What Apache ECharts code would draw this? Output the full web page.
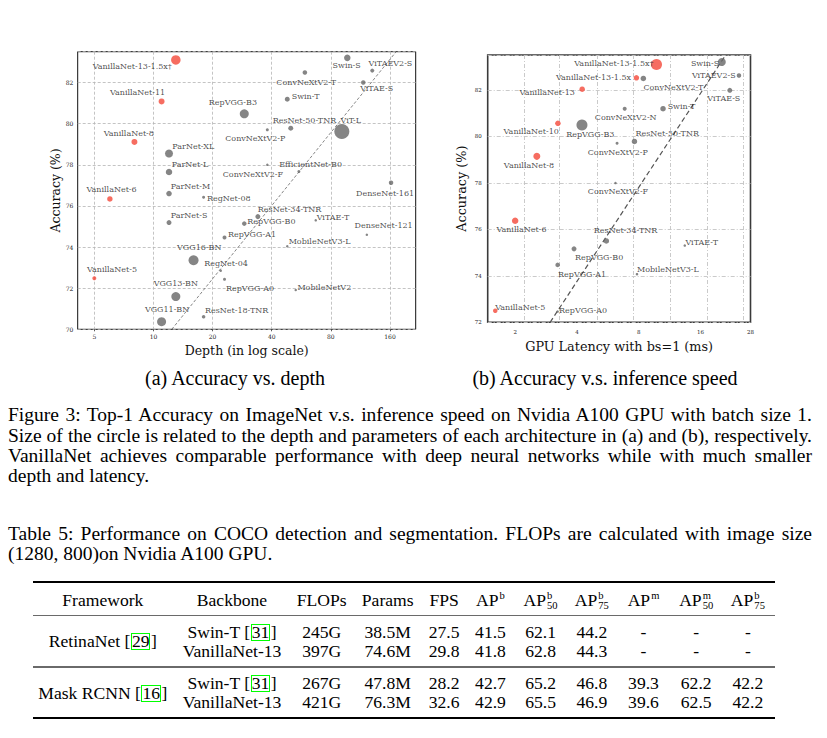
<!DOCTYPE html>
<html><head><meta charset="utf-8">
<script src="https://cdn.jsdelivr.net/npm/echarts@6/dist/echarts.min.js"></script>
<style>
html,body{margin:0;padding:0;background:#fff;width:827px;height:738px;overflow:hidden;}
#chart{position:absolute;left:0;top:0;width:827px;height:368px;}
.t{position:absolute;font-family:"Liberation Serif","Times New Roman",serif;color:#000;white-space:nowrap;}
.just{text-align:justify;text-align-last:justify;}
.cell{position:absolute;width:240px;text-align:center;font-family:"Liberation Serif","Times New Roman",serif;font-size:17.6px;line-height:20px;height:20px;white-space:nowrap;color:#000;}
.cite{display:inline-block;border:1.3px solid #00ff00;line-height:15px;height:15px;padding:0;margin:0 0.5px;}
.ss{display:inline-block;vertical-align:-0.36em;font-size:0.6em;line-height:0.98em;text-align:left;margin-left:1px;}
.ss span{display:block;}
.rule{position:absolute;left:32.7px;width:742.6px;}
</style></head><body>
<div id="chart"></div>
<div id="text"></div>
<script>
// ---------------- DATA ----------------
// (a) Accuracy vs. depth
const depthNames = ['VanillaNet-13-1.5x†','VanillaNet-11','VanillaNet-8','VanillaNet-6','VanillaNet-5','Swin-S','ViTAEV2-S','ConvNeXtV2-T','ViTAE-S','Swin-T','RepVGG-B3','ConvNeXtV2-P','ResNet-50-TNR','ViT-L','ParNet-XL','ParNet-L','ParNet-M','ParNet-S','EfficientNet-B0','ConvNeXtV2-F','DenseNet-161','RegNet-08','ResNet-34-TNR','RepVGG-B0','ViTAE-T','DenseNet-121','RepVGG-A1','MobileNetV3-L','VGG16-BN','RegNet-04','RepVGG-A0','MobileNetV2','VGG13-BN','VGG11-BN','ResNet-18-TNR'];
const depthValues = [13, 11, 8, 6, 5, 97, 130, 59, 117, 48, 29, 38, 50, 91, 12, 12, 12, 12, 55, 38, 162, 18, 34, 29, 67, 122, 23, 48, 16, 22, 23, 53, 13, 11, 18];
const depthAccuracy = [83.1, 81.08, 79.11, 76.34, 72.48, 83.2, 82.58, 82.49, 82.0, 81.19, 80.48, 79.7, 79.78, 79.62, 78.55, 77.65, 76.6, 75.19, 77.67, 78.0, 77.13, 76.42, 75.48, 75.14, 75.3, 74.6, 74.46, 74.04, 73.36, 72.85, 72.43, 71.91, 71.59, 70.37, 70.61];
const depthMarkerSize = [9.5, 6, 6, 5.5, 4, 6.5, 4, 4.5, 4.5, 5, 9, 3, 5, 15, 8, 6.5, 5.5, 5, 3, 2.5, 4.5, 3, 5, 4.5, 2.5, 2.5, 4, 2.5, 10, 2.5, 3, 2.5, 9, 9, 3.5];
const depthTicks = [5, 10, 20, 40, 80, 160];
const depthTrend = [[12.4, 70], [172, 83.5]];

// (b) Accuracy vs. GPU latency
const latencyNames = ['VanillaNet-13-1.5x†','VanillaNet-13-1.5x','ConvNeXtV2-T','VanillaNet-13','Swin-S','ViTAEV2-S','ViTAE-S','Swin-T','ConvNeXtV2-N','VanillaNet-10','RepVGG-B3','ResNet-50-TNR','ConvNeXtV2-P','VanillaNet-8','ConvNeXtV2-F','VanillaNet-6','ResNet-34-TNR','RepVGG-B0','ViTAE-T','RepVGG-A1','MobileNetV3-L','VanillaNet-5','RepVGG-A0'];
const latencyValues = [9.76, 7.79, 8.42, 4.24, 20.3, 24.6, 22.2, 10.5, 6.83, 3.23, 4.23, 7.62, 6.27, 2.55, 6.16, 2.0, 5.56, 3.87, 13.4, 3.22, 7.84, 1.6, 3.22];
const latencyAccuracy = [83.09, 82.52, 82.49, 82.03, 83.2, 82.62, 81.98, 81.19, 81.19, 80.56, 80.49, 79.78, 79.7, 79.14, 77.99, 76.37, 75.5, 75.16, 75.3, 74.47, 74.07, 72.5, 72.46];
const latencyMarkerSize = [11, 5.5, 5.5, 5.5, 8, 4.5, 5, 5.5, 4, 5.5, 11, 5.5, 3, 7, 2.5, 6.5, 5.5, 5, 2.5, 4.5, 2.5, 4.5, 2.5];
const latencyTickLabels = [2, 4, 8, 16, 28];
const latencyGridValues = [2.21, 3.28, 5.03, 7.53, 11.4, 17.3, 25.9];
const latencyTrend = [[2.96, 72], [21.2, 83.5]];

// text
const subCaptions = ['(a) Accuracy vs. depth', '(b) Accuracy v.s. inference speed'];
const figureCaption = [
  'Figure 3: Top-1 Accuracy on ImageNet v.s. inference speed on Nvidia A100 GPU with batch size 1.',
  'Size of the circle is related to the depth and parameters of each architecture in (a) and (b), respectively.',
  'VanillaNet achieves comparable performance with deep neural networks while with much smaller',
  'depth and latency.'];
const tableCaption = [
  'Table 5: Performance on COCO detection and segmentation. FLOPs are calculated with image size',
  '(1280, 800)on Nvidia A100 GPU.'];
const tableHeaders = ['Framework','Backbone','FLOPs','Params','FPS','AP^b','AP^b_50','AP^b_75','AP^m','AP^m_50','AP^b_75'];
const frameworks = ['RetinaNet', 'Mask RCNN'];
const frameworkRefs = ['29', '16'];
const backbones = ['Swin-T', 'VanillaNet-13'];
const backboneRefs = ['31', ''];
const retinaRows = [['245G','38.5M','27.5','41.5','62.1','44.2','-','-','-'],
                    ['397G','74.6M','29.8','41.8','62.8','44.3','-','-','-']];
const maskRows = [['267G','47.8M','28.2','42.7','65.2','46.8','39.3','62.2','42.2'],
                  ['421G','76.3M','32.6','42.9','65.5','46.9','39.6','62.5','42.2']];

// ---------------- LAYOUT / STYLE ----------------
const RED = '#f4483a', GRAY = '#676767';
// label placement: [align, dx, dy] relative to the marker centre (pixels)
const depthLabelPos = [['right',-4,6.7],['center',-24,-9],['center',-5.6,-8.7],['center',1.7,-9],['center',17.7,-9],['center',-0.6,7.7],['left',-3.7,-7.4],['center',1.4,9.6],['center',13.4,6],['left',4.4,-2.6],['center',-11.4,-11.3],['center',-12,9],['center',13.7,-7.6],['left',-1.3,-11],['left',3.3,-7],['left',2.7,-7],['left',1.7,-7],['left',1.7,-7],['center',11.7,-6.7],['center',-14.4,9.3],['center',-6,11.3],['left',3.3,1.7],['left',0,-7.4],['left',3,-2],['left',1,-2.6],['center',16.8,-9],['left',3.4,-2.7],['left',1.4,-4.6],['center',5.7,-13],['center',5.3,-6.7],['left',1.4,9.4],['left',1.7,-2.3],['center',0,-12.7],['center',5.5,-11.7],['left',1.3,-6.7]];
const latencyLabelPos = [['right',-3,-1],['right',-5.3,-0.6],['center',30,9.3],['right',-7.3,3.6],['right',-2.7,1.7],['right',-3.3,0],['center',-6,8.6],['left',4.6,-2.3],['center',1,9.3],['center',-26.7,8.6],['center',8.3,9.7],['left',1,-7.7],['center',0.8,9],['center',-7.9,9.3],['center',2.5,8.4],['center',6.3,8.3],['center',19.2,-10],['center',25.1,8.7],['left',0.7,-3.4],['center',24.5,9.3],['left',0,-4.3],['left',0,-2.7],['left',1.4,-1.4]];

function points(names, xs, ys, sizes, pos) {
  return names.map((n, i) => ({
    name: n,
    value: [xs[i], ys[i]],
    symbolSize: sizes[i],
    itemStyle: { color: n.indexOf('VanillaNet') === 0 ? RED : GRAY },
    label: { align: pos[i][0], offset: [pos[i][1], pos[i][2]] }
  }));
}

const serif = 'DejaVu Serif';
const labelCommon = { show: true, position: 'inside', formatter: '{b}', color: '#1a1a1a', fontSize: 8,
  fontFamily: serif, textBorderWidth: 0, textBorderColor: 'transparent', verticalAlign: 'middle' };

const chart = echarts.init(document.getElementById('chart'), null, { renderer: 'svg' });
chart.setOption({
  animation: false,
  backgroundColor: '#fff',
  grid: [
    { left: 77.7, top: 51.7, width: 338, height: 277.6, show: true, borderColor: '#111', borderWidth: 1, backgroundColor: 'transparent', containLabel: false, outerBoundsMode: 'none' },
    { left: 487.7, top: 55, width: 262.8, height: 267.3, show: true, borderColor: '#3a3a3a', borderWidth: 1.6, backgroundColor: 'transparent', containLabel: false, outerBoundsMode: 'none' }
  ],
  xAxis: [
    { type: 'log', logBase: 2, gridIndex: 0, min: 4.115, max: 216.3,
      axisLine: { show: false },
      axisTick: { show: true, customValues: depthTicks, length: 2, lineStyle: { color: '#333', width: 0.8 } },
      axisLabel: { customValues: depthTicks, fontSize: 6, fontFamily: serif, color: '#222', margin: 4 },
      splitLine: { show: true, lineStyle: { type: [3, 2], color: '#b5b5b5', width: 0.8 } },
      name: 'Depth (in log scale)', nameLocation: 'middle', nameGap: 12.5,
      nameTextStyle: { fontFamily: serif, fontSize: 12.5, color: '#111' } },
    { type: 'log', logBase: 2, gridIndex: 1, min: 1.47, max: 28,
      axisLine: { show: false },
      axisTick: { show: false, customValues: latencyGridValues },
      axisLabel: { customValues: latencyTickLabels, fontSize: 5.5, fontFamily: serif, color: '#222', margin: 7 },
      splitLine: { show: true, lineStyle: { type: [4, 2, 1, 2], color: '#c4c4c4', width: 0.9 } },
      name: 'GPU Latency with bs=1 (ms)', nameLocation: 'middle', nameGap: 15.5,
      nameTextStyle: { fontFamily: serif, fontSize: 12.8, color: '#111' } }
  ],
  yAxis: [
    { type: 'value', gridIndex: 0, min: 70, max: 83.5, interval: 2,
      axisLine: { show: false }, axisTick: { show: false },
      axisLabel: { fontSize: 6, fontFamily: serif, color: '#222', margin: 4.4, showMaxLabel: false },
      splitLine: { show: true, lineStyle: { type: [3, 2], color: '#b5b5b5', width: 0.8 } },
      name: 'Accuracy (%)', nameLocation: 'middle', nameRotate: 90, nameGap: 16,
      nameTextStyle: { fontFamily: serif, fontSize: 12.5, color: '#111' } },
    { type: 'value', gridIndex: 1, min: 72, max: 83.5, interval: 2,
      axisLine: { show: false }, axisTick: { show: false },
      axisLabel: { fontSize: 5.5, fontFamily: serif, color: '#222', margin: 6, showMaxLabel: false },
      splitLine: { show: true, lineStyle: { type: [4, 2, 1, 2], color: '#c4c4c4', width: 0.9 } },
      name: 'Accuracy (%)', nameLocation: 'middle', nameRotate: 90, nameGap: 19.4,
      nameTextStyle: { fontFamily: serif, fontSize: 12.8, color: '#111' } }
  ],
  series: [
    { type: 'line', xAxisIndex: 0, yAxisIndex: 0, data: depthTrend, symbol: 'none', silent: true, z: 1,
      lineStyle: { type: [3, 2], color: '#666', width: 0.8 } },
    { type: 'line', xAxisIndex: 1, yAxisIndex: 1, data: latencyTrend, symbol: 'none', silent: true, z: 1,
      lineStyle: { type: [5, 3], color: '#555', width: 1.2 } },
    { type: 'scatter', xAxisIndex: 0, yAxisIndex: 0, z: 3,
      data: points(depthNames, depthValues, depthAccuracy, depthMarkerSize, depthLabelPos), label: labelCommon },
    { type: 'scatter', xAxisIndex: 1, yAxisIndex: 1, z: 3,
      data: points(latencyNames, latencyValues, latencyAccuracy, latencyMarkerSize, latencyLabelPos), label: labelCommon }
  ]
});

// ---------------- TEXT (captions + table) ----------------
const host = document.getElementById('text');
function add(html, cls, style) {
  const d = document.createElement('div');
  d.className = cls; d.innerHTML = html; d.setAttribute('style', style); host.appendChild(d); return d;
}
// sub-captions
[235, 605].forEach((cx, i) => add(subCaptions[i], 't', `left:${cx-250}px;width:500px;text-align:center;top:367px;font-size:20px;line-height:22px;`));
// figure caption
figureCaption.forEach((s, i) => add(s, 't' + (i < 3 ? ' just' : ''), `left:8px;width:804px;top:${405.3 + i*20.2}px;font-size:19.5px;line-height:20px;`));
tableCaption.forEach((s, i) => add(s, 't' + (i < 1 ? ' just' : ''), `left:8px;width:804px;top:${523.6 + i*20.3}px;font-size:19.5px;line-height:20px;`));

// table
const colX = [102.8, 232, 321.7, 387.7, 444.1, 490.5, 540.6, 591.8, 643.5, 696.2, 747.9];
function hdr(h) {
  const m = h.match(/^(\w+)\^(\w)(?:_(\w+))?$/);
  if (!m) return h;
  return m[1] + `<span class="ss"><span>${m[2]}</span><span>${m[3] || '&nbsp;'}</span></span>`;
}
function cell(html, cx, cy) { add(html, 'cell', `left:${cx-120}px;top:${cy-10}px;`); }
function ref(r) { return r ? ` [<span class="cite">${r}</span>]` : ''; }
add('', 'rule', 'top:580.5px;height:2.4px;background:#000;');
add('', 'rule', 'top:614.8px;height:1.6px;background:#6a6a6a;');
add('', 'rule', 'top:666.3px;height:1.6px;background:#6a6a6a;');
add('', 'rule', 'top:717px;height:2.4px;background:#000;');
const headerY = 599.5, rowY = [[632, 651], [683, 701.8]], fwY = [641.2, 692.9];
tableHeaders.forEach((h, i) => cell(hdr(h), colX[i], headerY));
[retinaRows, maskRows].forEach((rows, g) => {
  cell(frameworks[g] + ref(frameworkRefs[g]), colX[0], fwY[g]);
  rows.forEach((r, k) => {
    cell(backbones[k] + ref(backboneRefs[k]), colX[1], rowY[g][k]);
    r.forEach((v, j) => cell(v, colX[j + 2], rowY[g][k]));
  });
});
</script>
</body></html>
